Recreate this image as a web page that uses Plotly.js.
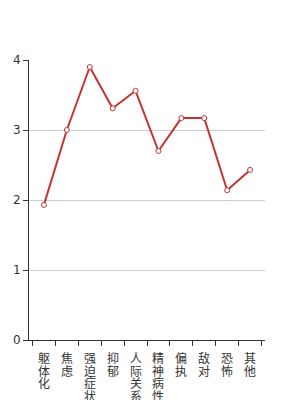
<!DOCTYPE html>
<html><head><meta charset="utf-8">
<script src="https://cdn.plot.ly/plotly-3.0.1.min.js"></script>
<style>html,body{margin:0;padding:0;background:#fff}#c{width:295px;height:400px}</style>
</head><body><div id="c"></div>
<script>
const categories = ['躯体化','焦虑','强迫症状','抑郁','人际关系敏感','精神病性','偏执','敌对','恐怖','其他'];
const values = [1.93, 3.0, 3.9, 3.31, 3.56, 2.7, 3.17, 3.17, 2.14, 2.43];
const yTicks = [0, 1, 2, 3, 4];
const annotations = [];
categories.forEach(c => {
  c.split('').forEach((ch, j) => {
    annotations.push({
      x: c, xref: 'x', y: 0, yref: 'paper', yanchor: 'top', xanchor: 'center',
      yshift: -(8 + 12.5 * j), text: ch, showarrow: false,
      font: {size: 12, color: '#333', family: 'Noto Sans CJK SC, sans-serif'},
      borderpad: 0
    });
  });
});
Plotly.newPlot('c', [{
  type: 'scatter', mode: 'lines+markers',
  x: categories, y: values,
  line: {color: '#c23531', width: 2},
  marker: {size: 5, color: '#fff', line: {color: '#c23531', width: 1}},
  hoverinfo: 'skip'
}], {
  width: 295, height: 400,
  margin: {l: 29, r: 30, t: 60, b: 60, pad: 0},
  paper_bgcolor: '#fff', plot_bgcolor: '#fff',
  showlegend: false,
  font: {family: 'Noto Sans CJK SC, DejaVu Sans, sans-serif', size: 12, color: '#333'},
  annotations: annotations,
  xaxis: {
    type: 'category', tickmode: 'array', tickvals: categories, ticktext: categories.map(() => ''),
    tickson: 'boundaries', ticks: 'outside', ticklen: 5, tickcolor: '#333',
    showline: true, linecolor: '#333', linewidth: 1, showgrid: false, zeroline: false,
    automargin: false, fixedrange: true
  },
  yaxis: {
    range: [0, 4], tickmode: 'array', tickvals: yTicks,
    ticks: 'outside', ticklen: 5, tickcolor: '#333',
    showline: true, linecolor: '#333', linewidth: 1,
    showgrid: true, gridcolor: '#ccc', zeroline: false,
    automargin: false, fixedrange: true,
    tickfont: {size: 12, color: '#333', family: 'DejaVu Sans, sans-serif'}
  }
}, {staticPlot: true, displayModeBar: false});
</script></body></html>
